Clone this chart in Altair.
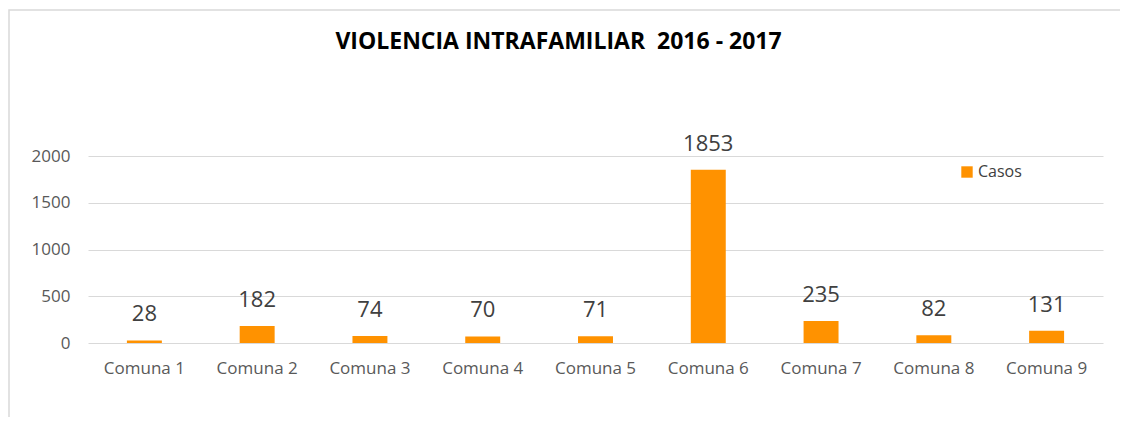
import altair as alt
import pandas as pd

categories = ["Comuna 1", "Comuna 2", "Comuna 3", "Comuna 4", "Comuna 5",
              "Comuna 6", "Comuna 7", "Comuna 8", "Comuna 9"]
casos = [28, 182, 74, 70, 71, 1853, 235, 82, 131]
series_name = "Casos"
y_ticks = [0, 500, 1000, 1500, 2000]
title_text = "VIOLENCIA INTRAFAMILIAR \u00a02016 - 2017"

df = pd.DataFrame({"Comuna": categories, "Casos": casos, "Serie": [series_name] * len(categories)})

ORANGE = "#FF9200"
FONT = "Open Sans"

base = alt.Chart(df)

bars = base.mark_bar(color=ORANGE).encode(
    x=alt.X("Comuna:N", sort=categories, title=None,
            scale=alt.Scale(paddingInner=0.69, paddingOuter=0.345),
            axis=alt.Axis(labelAngle=0, ticks=False, domain=False, labelPadding=17,
                          labelFont=FONT, labelFontSize=17, labelColor="#595959")),
    y=alt.Y("Casos:Q", title=None,
            scale=alt.Scale(domain=[0, 2000], nice=False),
            axis=alt.Axis(values=y_ticks, format="d", ticks=False, domain=False, labelPadding=18,
                          labelFont=FONT, labelFontSize=17, labelColor="#595959",
                          gridColor="#d9d9d9", gridWidth=1)),
    fill=alt.Fill("Serie:N", scale=alt.Scale(range=[ORANGE]),
                  legend=alt.Legend(title=None, orient="none", legendX=871, legendY=8,
                                    symbolType="square", symbolSize=130, symbolStrokeWidth=0,
                                    labelFont=FONT, labelFontSize=16, labelColor="#404040",
                                    labelOffset=3)),
)

labels = base.mark_text(baseline="bottom", dy=-14, font=FONT, fontSize=22, color="#404040").encode(
    x=alt.X("Comuna:N", sort=categories),
    y=alt.Y("Casos:Q"),
    text=alt.Text("Casos:Q"),
)

frame = alt.Chart(alt.Data(values=[{"a": 1}])).mark_rect(
    fill=None, stroke="#d9d9d9", strokeWidth=1.5
).encode(
    x=alt.value(-79), x2=alt.value(1100), y=alt.value(-146), y2=alt.value(400)
)

chart = alt.layer(frame, bars, labels).properties(
    width=1015,
    height=187,
    padding={"left": 80, "top": 148, "right": 17, "bottom": 74},
    autosize=alt.AutoSizeParams(type="none"),
    title=alt.Title(title_text, font=FONT, fontSize=23,
                    fontWeight="bold", color="#000000", anchor="middle", dx=-37,
                    offset=-68, baseline="bottom"),
).configure(background="white").configure_view(stroke=None)

chart.save("out.html", embed_options={"renderer": "svg", "actions": False})
